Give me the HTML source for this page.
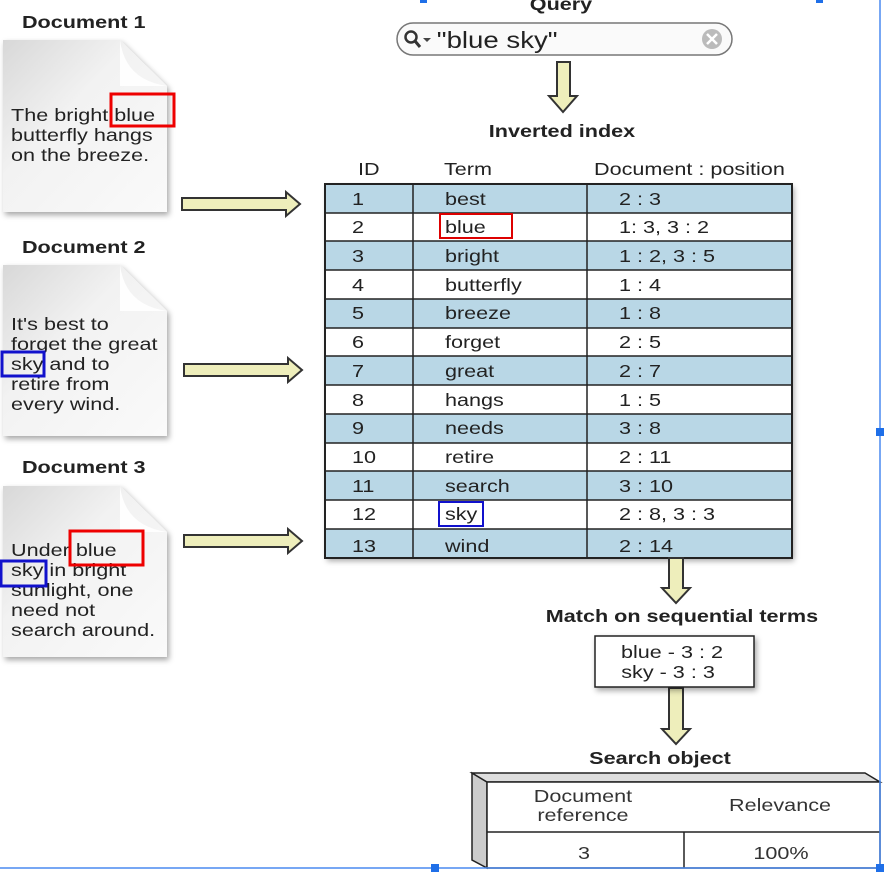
<!DOCTYPE html>
<html><head><meta charset="utf-8"><style>
html,body{margin:0;padding:0;background:#fff;}
svg{display:block;font-family:"Liberation Sans",Arial,sans-serif;}
</style></head><body>
<svg width="884" height="872" viewBox="0 0 884 872" xmlns="http://www.w3.org/2000/svg">
<defs>
<linearGradient id="pg" x1="0" y1="0" x2="1" y2="1">
<stop offset="0" stop-color="#d8d8d8"/><stop offset="0.4" stop-color="#f2f2f2"/><stop offset="1" stop-color="#fafafa"/>
</linearGradient>
<filter id="sh" x="-10%" y="-10%" width="130%" height="130%"><feDropShadow dx="2" dy="3" stdDeviation="3" flood-opacity="0.35"/></filter>
<g id="harr"><path d="M0,-6 H104 V-12 L118,0 L104,12 V6 H0 Z" fill="#eeeebb" stroke="#333" stroke-width="2"/></g>
</defs>

<path d="M3,40 H120 L167,86 V212 H3 Z" fill="url(#pg)" filter="url(#sh)"/>
<path d="M120,40 Q125,80 167,86 L120,86 Z" fill="#fff" opacity="0.9"/>
<path d="M3,265 H120 L167,311 V436 H3 Z" fill="url(#pg)" filter="url(#sh)"/>
<path d="M120,265 Q125,305 167,311 L120,311 Z" fill="#fff" opacity="0.9"/>
<path d="M3,486 H120 L167,532 V657 H3 Z" fill="url(#pg)" filter="url(#sh)"/>
<path d="M120,486 Q125,526 167,532 L120,532 Z" fill="#fff" opacity="0.9"/>

<g filter="url(#sh)"><rect x="325" y="184" width="467" height="374" fill="#fff"/></g>
<g fill="#b9d7e6">
<rect x="325" y="184" width="467" height="29"/>
<rect x="325" y="241" width="467" height="29"/>
<rect x="325" y="299" width="467" height="29"/>
<rect x="325" y="356" width="467" height="29"/>
<rect x="325" y="414" width="467" height="29"/>
<rect x="325" y="471" width="467" height="29"/>
<rect x="325" y="529" width="467" height="29"/>
</g>
<g stroke="#222" stroke-width="1.5" fill="none">
<rect x="325" y="184" width="467" height="374" stroke-width="2"/>
<line x1="413" y1="184" x2="413" y2="558"/>
<line x1="587" y1="184" x2="587" y2="558"/>
<line x1="325" y1="213" x2="792" y2="213"/><line x1="325" y1="241" x2="792" y2="241"/>
<line x1="325" y1="270" x2="792" y2="270"/><line x1="325" y1="299" x2="792" y2="299"/>
<line x1="325" y1="328" x2="792" y2="328"/><line x1="325" y1="356" x2="792" y2="356"/>
<line x1="325" y1="385" x2="792" y2="385"/><line x1="325" y1="414" x2="792" y2="414"/>
<line x1="325" y1="443" x2="792" y2="443"/><line x1="325" y1="471" x2="792" y2="471"/>
<line x1="325" y1="500" x2="792" y2="500"/><line x1="325" y1="529" x2="792" y2="529"/>
</g>

<use href="#harr" x="182" y="204"/>
<use href="#harr" x="184" y="370"/>
<use href="#harr" x="184" y="541"/>
<path d="M557,62 H570 V96 H577 L563,112 L549,96 H557 Z" fill="#eeeebb" stroke="#333" stroke-width="2"/>
<path d="M669,558 H683 V588 H690 L676,603 L662,588 H669 Z" fill="#eeeebb" stroke="#333" stroke-width="2"/>
<path d="M669,688 H683 V729 H690 L676,744 L662,729 H669 Z" fill="#eeeebb" stroke="#333" stroke-width="2"/>

<rect x="397" y="23" width="335" height="32" rx="16" fill="#fafafa" stroke="#777" stroke-width="1.5"/>
<circle cx="411" cy="37" r="5.5" fill="none" stroke="#333" stroke-width="2.5"/>
<line x1="415" y1="41" x2="420" y2="47" stroke="#333" stroke-width="3"/>
<path d="M423,38 L431,38 L427,42 Z" fill="#444"/>
<circle cx="712" cy="39" r="10" fill="#bbb"/>
<path d="M707,34 L717,44 M717,34 L707,44" stroke="#fff" stroke-width="2.5"/>

<rect x="595" y="636" width="159" height="51" fill="#fff" stroke="#222" stroke-width="1.5" filter="url(#sh)"/>

<path d="M472,773 L487,782 V868 L472,860 Z" fill="#ccc" stroke="#222" stroke-width="1.5"/>
<path d="M472,773 H865 L880,782 H487 Z" fill="#ddd" stroke="#222" stroke-width="1.5"/>
<rect x="487" y="782" width="393" height="86" fill="#fff" stroke="#222" stroke-width="1.5"/>
<line x1="487" y1="832" x2="880" y2="832" stroke="#222" stroke-width="1.5"/>
<line x1="684" y1="832" x2="684" y2="868" stroke="#222" stroke-width="1.5"/>

<g transform="scale(1.2,1)" font-size="18" fill="#222">
<g font-weight="bold">
<text x="18.3" y="28">Document 1</text>
<text x="18.3" y="253">Document 2</text>
<text x="18.3" y="473">Document 3</text>
<text x="467.5" y="10" text-anchor="middle">Query</text>
<text x="468.3" y="137" text-anchor="middle">Inverted index</text>
<text x="568.3" y="622" text-anchor="middle">Match on sequential terms</text>
<text x="550" y="764" text-anchor="middle">Search object</text>
</g>
<text x="9.2" y="121">The bright blue</text>
<text x="9.2" y="141">butterfly hangs</text>
<text x="9.2" y="161">on the breeze.</text>
<text x="9.2" y="330">It's best to</text>
<text x="9.2" y="350">forget the great</text>
<text x="9.2" y="370">sky and to</text>
<text x="9.2" y="390">retire from</text>
<text x="9.2" y="410">every wind.</text>
<text x="9.2" y="556">Under blue</text>
<text x="9.2" y="576">sky  in bright</text>
<text x="9.2" y="596">sunlight, one</text>
<text x="9.2" y="616">need not</text>
<text x="9.2" y="636">search around.</text>

<text x="364" y="48" font-size="23">"blue sky"</text>

<text x="298.3" y="175">ID</text>
<text x="370" y="175">Term</text>
<text x="495" y="175">Document : position</text>

<text x="293.3" y="205">1</text><text x="370.8" y="205">best</text><text x="515.8" y="205">2 : 3</text>
<text x="293.3" y="233">2</text><text x="370.8" y="233">blue</text><text x="515.8" y="233">1: 3, 3 : 2</text>
<text x="293.3" y="262">3</text><text x="370.8" y="262">bright</text><text x="515.8" y="262">1 : 2, 3 : 5</text>
<text x="293.3" y="291">4</text><text x="370.8" y="291">butterfly</text><text x="515.8" y="291">1 : 4</text>
<text x="293.3" y="319">5</text><text x="370.8" y="319">breeze</text><text x="515.8" y="319">1 : 8</text>
<text x="293.3" y="348">6</text><text x="370.8" y="348">forget</text><text x="515.8" y="348">2 : 5</text>
<text x="293.3" y="377">7</text><text x="370.8" y="377">great</text><text x="515.8" y="377">2 : 7</text>
<text x="293.3" y="406">8</text><text x="370.8" y="406">hangs</text><text x="515.8" y="406">1 : 5</text>
<text x="293.3" y="434">9</text><text x="370.8" y="434">needs</text><text x="515.8" y="434">3 : 8</text>
<text x="293.3" y="463">10</text><text x="370.8" y="463">retire</text><text x="515.8" y="463">2 : 11</text>
<text x="293.3" y="492">11</text><text x="370.8" y="492">search</text><text x="515.8" y="492">3 : 10</text>
<text x="293.3" y="520">12</text><text x="370.8" y="520">sky</text><text x="515.8" y="520">2 : 8, 3 : 3</text>
<text x="293.3" y="552">13</text><text x="370.8" y="552">wind</text><text x="515.8" y="552">2 : 14</text>

<g text-anchor="middle">
<text x="560" y="658">blue - 3 : 2</text>
<text x="556.7" y="678">sky -  3 : 3</text>
</g>
<g text-anchor="middle" fill="#333">
<text x="485.8" y="802">Document</text><text x="485.8" y="821">reference</text>
<text x="650" y="811">Relevance</text>
<text x="486.7" y="859">3</text><text x="650.8" y="859">100%</text>
</g>
</g>

<rect x="111" y="94" width="63" height="32" fill="none" stroke="#e00" stroke-width="3"/>
<rect x="2" y="352" width="42" height="24" fill="none" stroke="#11c" stroke-width="3"/>
<rect x="70" y="531" width="73" height="34" fill="none" stroke="#e00" stroke-width="3"/>
<rect x="1" y="561" width="45" height="25" fill="none" stroke="#11c" stroke-width="3"/>
<rect x="440" y="214" width="72" height="24" fill="none" stroke="#d00" stroke-width="2"/>
<rect x="439" y="502" width="44" height="24" fill="none" stroke="#11c" stroke-width="2"/>

<line x1="880" y1="0" x2="880" y2="868" stroke="#4a8af0" stroke-width="1.5"/>
<line x1="0" y1="868" x2="880" y2="868" stroke="#4a8af0" stroke-width="1.5"/>
<g fill="#1f6fe8">
<rect x="876" y="428" width="8" height="8"/>
<rect x="431" y="864" width="8" height="8"/>
<rect x="876" y="864" width="8" height="8"/>
<rect x="420" y="0" width="7" height="3"/>
<rect x="816" y="0" width="7" height="3"/>
</g>
</svg>
</body></html>
